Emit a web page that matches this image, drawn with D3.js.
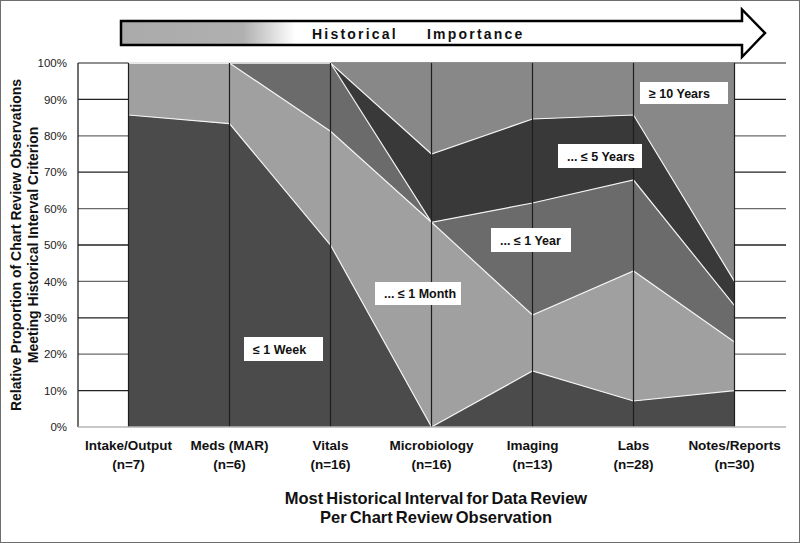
<!DOCTYPE html>
<html>
<head>
<meta charset="utf-8">
<script src="https://cdn.jsdelivr.net/npm/d3@7"></script>
<style>
  body { margin: 0; background: #fff; }
  svg { font-family: Arial, "Liberation Sans", sans-serif; }
</style>
</head>
<body>
<svg id="chart" width="800" height="543"></svg>
<script>
// categories and n per category
const categories = ["Intake/Output", "Meds (MAR)", "Vitals", "Microbiology", "Imaging", "Labs", "Notes/Reports"];
const nCounts = [7, 6, 16, 16, 13, 28, 30];

// observation counts per interval (bottom to top of stack)
const week = [6, 5, 8, 0, 2, 2, 3];
const month = [1, 1, 5, 9, 2, 10, 4];
const year = [0, 0, 3, 0, 4, 7, 3];
const fiveYears = [0, 0, 0, 3, 3, 5, 2];
const tenYears = [0, 0, 0, 4, 2, 4, 18];

const seriesNames = ["week", "month", "year", "fiveYears", "tenYears"];
const seriesLabels = ["≤ 1 Week", "... ≤ 1 Month", "... ≤ 1 Year", "... ≤ 5 Years", "≥ 10 Years"];
const yTicks = [0, 0.1, 0.2, 0.3, 0.4, 0.5, 0.6, 0.7, 0.8, 0.9, 1];

const colors = {
  week: "#4b4b4b",
  month: "#a0a0a0",
  year: "#6b6b6b",
  fiveYears: "#393939",
  tenYears: "#888888",
};

const svg = d3.select("#chart");

// outer frame
svg.append("rect")
  .attr("x", 0.5).attr("y", 0.5)
  .attr("width", 799).attr("height", 542)
  .attr("fill", "none").attr("stroke", "#6e6e6e");

// ---- arrow "Historical Importance"
const defs = svg.append("defs");
const grad = defs.append("linearGradient").attr("id", "arrowGrad")
  .attr("x1", "0%").attr("x2", "100%").attr("y1", "0%").attr("y2", "0%");
grad.append("stop").attr("offset", "0%").attr("stop-color", "#aaaaaa");
grad.append("stop").attr("offset", "19%").attr("stop-color", "#b0b0b0");
grad.append("stop").attr("offset", "27%").attr("stop-color", "#ffffff");
grad.append("stop").attr("offset", "100%").attr("stop-color", "#ffffff");

svg.append("path")
  .attr("d", "M121,21 L742,21 L742,9.5 L765,33 L742,57 L742,45 L121,45 Z")
  .attr("fill", "url(#arrowGrad)")
  .attr("stroke", "#000")
  .attr("stroke-width", 2.5)
  .attr("stroke-linejoin", "miter");

svg.append("text").attr("x", 312).attr("y", 38.5)
  .attr("font-size", 14).attr("font-weight", "bold")
  .attr("letter-spacing", 2.2).attr("fill", "#111")
  .text("Historical");
svg.append("text").attr("x", 427).attr("y", 38.5)
  .attr("font-size", 14).attr("font-weight", "bold")
  .attr("letter-spacing", 2.2).attr("fill", "#111")
  .text("Importance");

// ---- scales
const x = d3.scalePoint().domain(categories).range([78, 785]).padding(0.5);
const y = d3.scaleLinear().domain([0, 1]).range([427, 63]);

// data table as proportions
const table = categories.map((c, i) => ({
  category: c,
  week: week[i] / nCounts[i],
  month: month[i] / nCounts[i],
  year: year[i] / nCounts[i],
  fiveYears: fiveYears[i] / nCounts[i],
  tenYears: tenYears[i] / nCounts[i],
}));

const stacked = d3.stack().keys(seriesNames)(table);

// gridlines (visible only in the white side panels)
svg.append("g").selectAll("line")
  .data(yTicks.filter(t => t > 0))
  .join("line")
  .attr("x1", 78).attr("x2", 786)
  .attr("y1", d => y(d)).attr("y2", d => y(d))
  .attr("stroke", d => (Math.round(d * 10) % 2 === 0 ? "#6a6a6a" : "#222"))
  .attr("stroke-width", 1.3);

// areas
const area = d3.area()
  .x(d => x(d.data.category))
  .y0(d => y(d[0]))
  .y1(d => y(d[1]));

svg.append("g").selectAll("path")
  .data(stacked)
  .join("path")
  .attr("d", area)
  .attr("fill", d => colors[d.key]);

// white boundaries between series
const line = d3.line()
  .x(d => x(d.data.category))
  .y(d => y(d[1]));

svg.append("g").selectAll("path")
  .data(stacked.slice(0, 4))
  .join("path")
  .attr("d", line)
  .attr("fill", "none")
  .attr("stroke", "#f4f4f4")
  .attr("stroke-width", 1.2);

// vertical category lines
svg.append("g").selectAll("line")
  .data(categories)
  .join("line")
  .attr("x1", d => x(d)).attr("x2", d => x(d))
  .attr("y1", y(1)).attr("y2", y(0))
  .attr("stroke", "#1e1e1e")
  .attr("stroke-width", 1.2);

// left axis line and bottom baseline
svg.append("line")
  .attr("x1", 78).attr("x2", 78).attr("y1", y(1)).attr("y2", y(0))
  .attr("stroke", "#222").attr("stroke-width", 1.3);
svg.append("line")
  .attr("x1", 78).attr("x2", 786).attr("y1", y(0)).attr("y2", y(0))
  .attr("stroke", "#b5b5b5").attr("stroke-width", 1.3);

// y tick labels
const yAxis = d3.axisLeft(y).tickValues(yTicks).tickFormat(d3.format(".0%")).tickSize(0).tickPadding(10);
const yg = svg.append("g").attr("transform", "translate(77,0)").call(yAxis);
yg.select(".domain").remove();
yg.selectAll("text")
  .attr("font-size", 11.5)
  .attr("font-family", "Arial, 'Liberation Sans', sans-serif")
  .attr("fill", "#222");

// x category labels
const xl = svg.append("g").selectAll("g")
  .data(categories)
  .join("g")
  .attr("transform", d => `translate(${x(d)},0)`);
xl.append("text")
  .attr("y", 450).attr("text-anchor", "middle")
  .attr("font-size", 13.5).attr("font-weight", "bold").attr("fill", "#111")
  .text(d => d);
xl.append("text")
  .attr("y", 468.5).attr("text-anchor", "middle")
  .attr("font-size", 13.5).attr("font-weight", "bold").attr("fill", "#111")
  .text((d, i) => `(n=${nCounts[i]})`);

// x title
svg.append("text").attr("x", 436).attr("y", 504).attr("text-anchor", "middle")
  .attr("font-size", 16.5).attr("font-weight", "bold").attr("word-spacing", -1.5).attr("fill", "#111")
  .text("Most Historical Interval for Data Review");
svg.append("text").attr("x", 436).attr("y", 523).attr("text-anchor", "middle")
  .attr("font-size", 16.5).attr("font-weight", "bold").attr("word-spacing", -1.5).attr("fill", "#111")
  .text("Per Chart Review Observation");

// y title
const yt = svg.append("g").attr("transform", "translate(0,245) rotate(-90)");
yt.append("text").attr("x", 0).attr("y", 21).attr("text-anchor", "middle")
  .attr("font-size", 14).attr("font-weight", "bold").attr("fill", "#111")
  .text("Relative Proportion of Chart Review Observations");
yt.append("text").attr("x", 0).attr("y", 38).attr("text-anchor", "middle")
  .attr("font-size", 14).attr("font-weight", "bold").attr("fill", "#111")
  .text("Meeting Historical Interval Criterion");

// series labels in white boxes
const labelBoxes = [
  { i: 0, x: 244, y: 337, w: 79, h: 24 },
  { i: 1, x: 375, y: 282, w: 86, h: 23 },
  { i: 2, x: 491, y: 228, w: 80, h: 24 },
  { i: 3, x: 558, y: 144, w: 84, h: 24 },
  { i: 4, x: 640, y: 82, w: 88, h: 22 },
];
const lb = svg.append("g").selectAll("g")
  .data(labelBoxes)
  .join("g")
  .attr("transform", d => `translate(${d.x},${d.y})`);
lb.append("rect")
  .attr("width", d => d.w).attr("height", d => d.h)
  .attr("fill", "#fff");
lb.append("text")
  .attr("x", 9).attr("y", d => d.h / 2 + 4.5)
  .attr("font-size", 12.5).attr("font-weight", "bold").attr("fill", "#111")
  .text(d => seriesLabels[d.i]);
</script>
</body>
</html>
